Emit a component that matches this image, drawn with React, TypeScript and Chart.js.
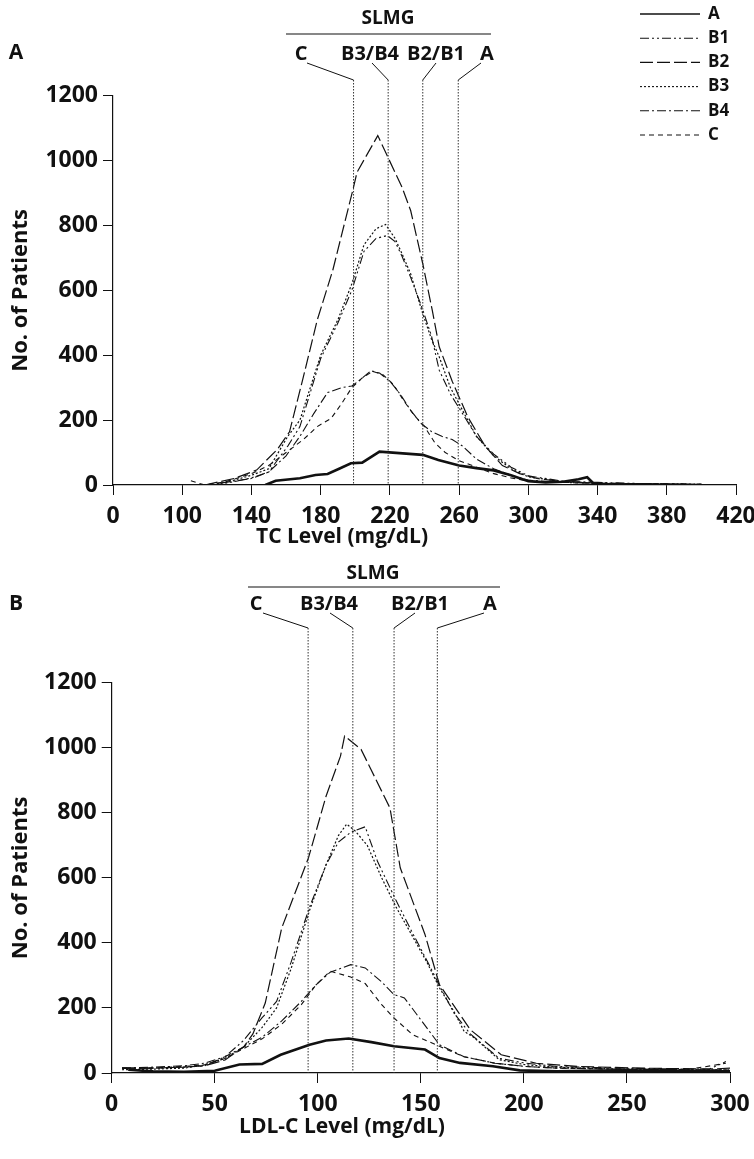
import React, { useEffect, useRef } from "react";
import { Chart, registerables } from "chart.js";

Chart.register(...registerables);

const FONT = '"Open Sans", "DejaVu Sans", sans-serif';

// ---------- Panel A : TC level ----------
const TC_TICKS = [60, 100, 140, 180, 220, 260, 300, 340, 380, 420];
const TC_TICK_LABELS = ["0", "100", "140", "180", "220", "260", "300", "340", "380", "420"];
const TC_CUTS = [199, 219, 239, 259.5];

const TC_A_X = [148, 154, 168, 177, 184, 191, 197.5, 204, 214, 239, 248, 260, 270, 280, 290, 300, 310, 320, 329, 334, 338, 350, 370, 390];
const TC_A_Y = [0, 13, 21, 31, 34, 51, 67, 69, 103, 93, 77, 60, 52, 45, 30, 12, 8, 10, 18, 24, 3, 2, 1, 0];
const TC_B1_X = [118, 130, 140, 150, 161, 168, 180, 190, 198, 205, 212, 218.5, 223, 227, 232, 239, 244, 248.5, 255, 262, 270, 280, 290, 300, 320, 340, 360, 380, 400];
const TC_B1_Y = [0, 10, 22, 40, 120, 180, 390, 500, 600, 720, 760, 769, 750, 705, 640, 540, 460, 354, 280, 220, 150, 95, 55, 28, 12, 8, 5, 3, 2];
const TC_B2_X = [113, 130, 143, 155, 162, 170, 178, 187, 199, 201, 213, 218, 227, 232, 239, 244.5, 248.5, 256, 265, 275, 285, 295, 305, 320, 340, 360, 380, 400];
const TC_B2_Y = [0, 20, 46, 110, 164, 333, 508, 662, 918, 964, 1077, 1020, 918, 846, 682, 538, 426, 320, 210, 120, 60, 35, 20, 10, 6, 4, 3, 2];
const TC_B3_X = [118, 130, 140, 150, 161, 168, 180, 190, 198, 205, 212, 217.5, 223, 227, 232, 239, 244, 248.5, 255, 262, 270, 280, 290, 300, 320, 340, 360, 380, 400];
const TC_B3_Y = [0, 15, 30, 50, 150, 200, 400, 510, 620, 740, 790, 803, 760, 713, 651, 528, 450, 395, 300, 230, 150, 90, 50, 25, 10, 6, 4, 3, 2];
const TC_B4_X = [113, 125, 140, 150, 160, 168, 176, 184, 192, 198, 203, 209, 214, 220, 226, 232, 238, 244, 250, 256, 262, 270, 280, 290, 300, 320, 340, 360, 400];
const TC_B4_Y = [0, 8, 20, 40, 90, 150, 220, 285, 300, 305, 325, 352, 345, 320, 280, 230, 190, 165, 150, 140, 120, 80, 50, 30, 15, 8, 5, 4, 2];
const TC_C_X = [105, 113, 125, 140, 150, 160, 170, 178, 186, 192, 198, 204, 210, 216, 222, 228, 234, 240, 246, 252, 260, 270, 280, 290, 300, 320, 340, 360, 400];
const TC_C_Y = [13, 0, 10, 35, 60, 100, 140, 180, 205, 250, 300, 330, 350, 340, 310, 260, 215, 180, 130, 100, 75, 55, 35, 22, 12, 8, 5, 4, 2];

// ---------- Panel B : LDL-C level ----------
const LDL_TICKS = [0, 50, 100, 150, 200, 250, 300];
const LDL_TICK_LABELS = ["0", "50", "100", "150", "200", "250", "300"];
const LDL_CUTS = [95.3, 117, 137, 158];

const LDL_A_X = [8, 20, 35, 50, 62, 73, 82, 96, 104, 115, 126, 137, 152, 159, 169, 185, 198, 216, 246, 279, 300];
const LDL_A_Y = [10, 5, 4, 7, 26, 28, 56, 87, 100, 106, 95, 82, 72, 46, 31, 21, 8, 5, 8, 6, 5];
const LDL_B1_X = [5, 20, 35, 45, 55, 64, 73, 80, 87, 96, 104, 110, 116, 123, 129, 138, 146, 153, 159, 166, 174, 188, 201, 216, 246, 279, 290, 298];
const LDL_B1_Y = [15, 15, 18, 22, 50, 100, 170, 220, 340, 510, 640, 710, 740, 757, 650, 530, 430, 345, 270, 185, 120, 45, 30, 20, 15, 12, 12, 35];
const LDL_B2_X = [5, 20, 35, 45, 55, 64, 68.5, 74.5, 82.5, 95.5, 104, 111, 113, 121, 135, 140, 152, 159, 174, 189, 206, 226, 257, 290, 300];
const LDL_B2_Y = [15, 15, 18, 22, 40, 80, 120, 215, 446, 662, 851, 974, 1036, 995, 815, 631, 426, 272, 133, 56, 30, 20, 15, 12, 15];
const LDL_B3_X = [5, 20, 35, 45, 55, 64, 73, 80, 87, 96, 104, 110, 114, 118, 124, 131, 138, 146, 153, 159, 166, 171, 176, 188, 201, 216, 246, 279, 300];
const LDL_B3_Y = [10, 12, 15, 25, 45, 80, 140, 200, 320, 500, 640, 730, 765, 745, 700, 600, 510, 420, 340, 262, 190, 128, 108, 41, 25, 18, 12, 10, 10];
const LDL_B4_X = [5, 20, 35, 45, 55, 64, 73, 82.5, 92, 99, 106, 116, 123, 131, 137, 142, 153, 159, 171, 186, 201, 216, 246, 279, 300];
const LDL_B4_Y = [15, 18, 22, 30, 50, 80, 110, 160, 220, 270, 310, 333, 323, 280, 241, 231, 138, 87, 50, 30, 20, 15, 12, 10, 10];
const LDL_C_X = [5, 20, 35, 45, 55, 64, 73, 82.5, 92, 99, 106, 116, 123, 131, 137, 146, 159, 171, 186, 201, 216, 246, 279, 298];
const LDL_C_Y = [15, 15, 20, 25, 45, 75, 105, 150, 210, 270, 313, 295, 275, 210, 169, 118, 82, 50, 30, 20, 15, 12, 10, 30];

const Y_TICKS = [0, 200, 400, 600, 800, 1000, 1200];
const SERIES_NAMES = ["A", "B1", "B2", "B3", "B4", "C"];
const SLMG_LABELS = ["C", "B3/B4", "B2/B1", "A"];

const STYLES: Record<string, { dash: number[]; width: number }> = {
  A: { dash: [], width: 2.6 },
  B1: { dash: [9, 3, 2, 3, 2, 3], width: 1.1 },
  B2: { dash: [13, 4], width: 1.2 },
  B3: { dash: [2, 2], width: 1.2 },
  B4: { dash: [9, 3, 2, 3], width: 1.1 },
  C: { dash: [5, 4], width: 1.1 },
};

type Panel = {
  top: number;
  height: number;
  area: { left: number; right: number; top: number; bottom: number };
  xMin: number;
  xMax: number;
  ticks: number[];
  tickLabels: string[];
  cuts: number[];
  xs: number[][];
  ys: number[][];
  letter: string;
  letterPos: [number, number];
  xTitle: string;
  xTitlePos: [number, number];
  slmg: [number, number];
  slmgLine: [number, number, number];
  labelY: number;
  labelX: number[];
  leaderFrom: [number, number][];
  leaderEndY: number;
  legend: boolean;
};

const PANELS: Panel[] = [
  {
    top: 0,
    height: 560,
    area: { left: 113, right: 736, top: 95.7, bottom: 485 },
    xMin: 60,
    xMax: 420,
    ticks: TC_TICKS,
    tickLabels: TC_TICK_LABELS,
    cuts: TC_CUTS,
    xs: [TC_A_X, TC_B1_X, TC_B2_X, TC_B3_X, TC_B4_X, TC_C_X],
    ys: [TC_A_Y, TC_B1_Y, TC_B2_Y, TC_B3_Y, TC_B4_Y, TC_C_Y],
    letter: "A",
    letterPos: [16, 53],
    xTitle: "TC Level (mg/dL)",
    xTitlePos: [342, 537],
    slmg: [388, 19],
    slmgLine: [286, 491, 34],
    labelY: 54,
    labelX: [301, 370, 436, 487],
    leaderFrom: [[307, 63], [372, 63], [436, 63], [481, 63]],
    leaderEndY: 80,
    legend: true,
  },
  {
    top: 560,
    height: 599,
    area: { left: 111.7, right: 730, top: 682.7, bottom: 1073 },
    xMin: 0,
    xMax: 300,
    ticks: LDL_TICKS,
    tickLabels: LDL_TICK_LABELS,
    cuts: LDL_CUTS,
    xs: [LDL_A_X, LDL_B1_X, LDL_B2_X, LDL_B3_X, LDL_B4_X, LDL_C_X],
    ys: [LDL_A_Y, LDL_B1_Y, LDL_B2_Y, LDL_B3_Y, LDL_B4_Y, LDL_C_Y],
    letter: "B",
    letterPos: [16, 604],
    xTitle: "LDL-C Level (mg/dL)",
    xTitlePos: [342, 1127],
    slmg: [373, 574],
    slmgLine: [248, 500, 587],
    labelY: 604,
    labelX: [256, 329, 420, 490],
    leaderFrom: [[263, 613], [330, 613], [415, 613], [484, 613]],
    leaderEndY: 628,
    legend: false,
  },
];

function makeOverlay(p: Panel) {
  const off = p.top;
  return {
    id: "overlay" + p.letter,
    afterDraw(chart: any) {
      const ctx: CanvasRenderingContext2D = chart.ctx;
      const xs = chart.scales.x;
      const ys = chart.scales.y;
      ctx.save();
      const bottom = ys.getPixelForValue(0);
      p.cuts.forEach((c, i) => {
        const px = xs.getPixelForValue(c);
        ctx.strokeStyle = "#333";
        ctx.lineWidth = 1;
        ctx.setLineDash([1.5, 1.5]);
        ctx.beginPath();
        ctx.moveTo(px, p.leaderEndY - off);
        ctx.lineTo(px, bottom);
        ctx.stroke();
        ctx.setLineDash([]);
        ctx.strokeStyle = "#111";
        ctx.beginPath();
        ctx.moveTo(p.leaderFrom[i][0], p.leaderFrom[i][1] - off);
        ctx.lineTo(px, p.leaderEndY - off);
        ctx.stroke();
      });
      ctx.fillStyle = "#111";
      ctx.textAlign = "center";
      ctx.textBaseline = "middle";
      ctx.font = "bold 19px " + FONT;
      ctx.fillText("SLMG", p.slmg[0], p.slmg[1] - off);
      ctx.strokeStyle = "#111";
      ctx.lineWidth = 1.2;
      ctx.beginPath();
      ctx.moveTo(p.slmgLine[0], p.slmgLine[2] - off);
      ctx.lineTo(p.slmgLine[1], p.slmgLine[2] - off);
      ctx.stroke();
      ctx.font = "bold 20px " + FONT;
      SLMG_LABELS.forEach((t, i) => ctx.fillText(t, p.labelX[i], p.labelY - off));
      ctx.font = "bold 21px " + FONT;
      ctx.fillText(p.letter, p.letterPos[0], p.letterPos[1] - off);
      ctx.fillText(p.xTitle, p.xTitlePos[0], p.xTitlePos[1] - off);
      ctx.save();
      ctx.translate(21, (chart.chartArea.top + chart.chartArea.bottom) / 2);
      ctx.rotate(-Math.PI / 2);
      ctx.font = "bold 22px " + FONT;
      ctx.fillText("No. of Patients", 0, 0);
      ctx.restore();
      if (p.legend) {
        ctx.font = "bold 17px " + FONT;
        ctx.textAlign = "left";
        SERIES_NAMES.forEach((n, i) => {
          const y = 14 + i * 24.2;
          const st = STYLES[n];
          ctx.strokeStyle = "#111";
          ctx.lineWidth = n === "A" ? 1.6 : 1.1;
          ctx.setLineDash(st.dash);
          ctx.beginPath();
          ctx.moveTo(640, y);
          ctx.lineTo(700, y);
          ctx.stroke();
          ctx.setLineDash([]);
          ctx.fillText(n, 708, y);
        });
      }
      ctx.restore();
    },
  };
}

function PanelChart({ p }: { p: Panel }) {
  const ref = useRef<HTMLCanvasElement | null>(null);
  useEffect(() => {
    if (!ref.current) return;
    const xAxisH = 40;
    const areaTop = p.area.top - p.top;
    const areaBottom = p.area.bottom - p.top;
    const datasets = SERIES_NAMES.map((n, i) => ({
      label: n,
      data: p.xs[i].map((x, j) => ({ x, y: p.ys[i][j] })),
      borderColor: "#111",
      borderWidth: STYLES[n].width,
      borderDash: STYLES[n].dash,
      pointRadius: 0,
      fill: false,
      tension: 0,
    }));
    const tickFont = { family: FONT, size: 23, weight: "bold" as const };
    const chart = new Chart(ref.current, {
      type: "line",
      data: { datasets },
      options: {
        animation: false,
        responsive: false,
        maintainAspectRatio: false,
        layout: {
          padding: {
            left: 0,
            right: 754 - p.area.right,
            top: areaTop,
            bottom: p.height - areaBottom - xAxisH,
          },
        },
        plugins: { legend: { display: false }, tooltip: { enabled: false }, title: { display: false } },
        scales: {
          x: {
            type: "linear",
            min: p.xMin,
            max: p.xMax,
            afterBuildTicks: (s: any) => {
              s.ticks = p.ticks.map((v) => ({ value: v }));
            },
            afterFit: (s: any) => {
              s.height = xAxisH;
              s.paddingLeft = 0;
              s.paddingRight = 0;
            },
            ticks: {
              autoSkip: false,
              maxRotation: 0,
              minRotation: 0,
              padding: 8,
              color: "#111",
              font: tickFont,
              callback: (v: any) => {
                const k = p.ticks.indexOf(Number(v));
                return k >= 0 ? p.tickLabels[k] : "";
              },
            },
            grid: { drawOnChartArea: false, drawTicks: true, tickLength: 10, color: "#111", lineWidth: 1 },
            border: { display: true, color: "#111", width: 1.2 },
          },
          y: {
            type: "linear",
            min: 0,
            max: 1200,
            afterBuildTicks: (s: any) => {
              s.ticks = Y_TICKS.map((v) => ({ value: v }));
            },
            afterFit: (s: any) => {
              s.width = p.area.left;
              s.paddingTop = 0;
              s.paddingBottom = 0;
            },
            ticks: { padding: 5, color: "#111", font: tickFont, callback: (v: any) => String(v) },
            grid: { drawOnChartArea: false, drawTicks: true, tickLength: 10, color: "#111", lineWidth: 1 },
            border: { display: true, color: "#111", width: 1.2 },
          },
        },
      },
      plugins: [makeOverlay(p)],
    } as any);
    return () => chart.destroy();
  }, [p]);
  return (
    <canvas
      ref={ref}
      width={754}
      height={p.height}
      style={{ position: "absolute", left: 0, top: p.top, width: 754, height: p.height }}
    />
  );
}

export default function App() {
  return (
    <div style={{ position: "absolute", left: 0, top: 0, width: 754, height: 1159, background: "#fff" }}>
      {PANELS.map((p) => (
        <PanelChart key={p.letter} p={p} />
      ))}
    </div>
  );
}
